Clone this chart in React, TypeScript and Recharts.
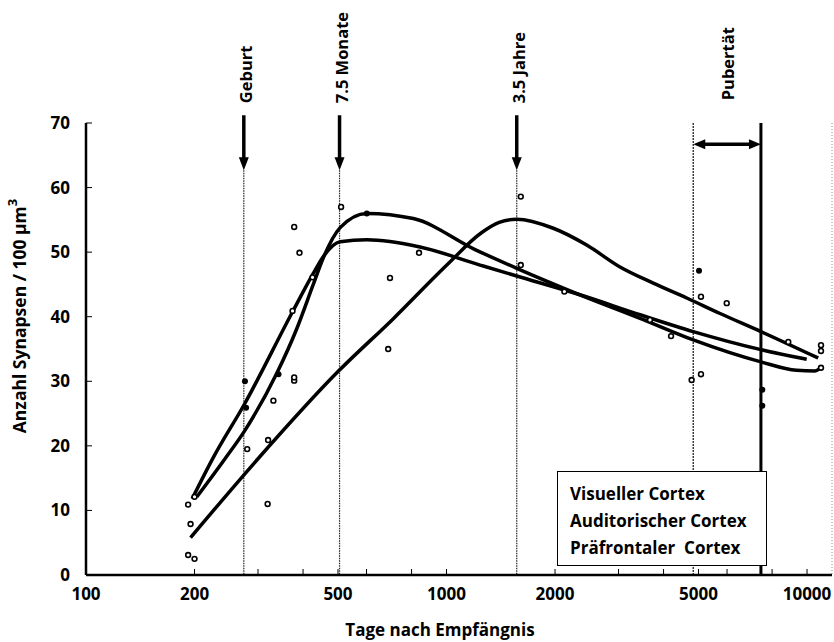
import React from 'react'
import { ComposedChart, Line, Scatter, XAxis, YAxis, ReferenceLine, Label } from 'recharts'

const FONT = '"Open Sans", "Noto Sans", sans-serif'

// axis ticks (log x axis, days after conception)
const X_TICKS = [100, 200, 300, 400, 500, 600, 800, 1000, 2000, 3000, 4000, 5000, 6000, 8000, 10000]
const X_LABELED = [100, 200, 500, 1000, 2000, 5000, 10000]
const Y_TICKS = [0, 10, 20, 30, 40, 50, 60, 70]

// fitted curves: [day, synapses]
const visualCurve: [number, number][] = [
  [203, 12.1], [243, 18.0], [276, 22.4], [338, 31.2], [384, 38.1], [427, 45.0], [455, 49.1],
  [507, 53.8], [601, 56.0], [809, 55.2], [1200, 50.4], [1566, 47.5], [2344, 43.4], [3443, 39.75],
  [4835, 36.4], [7450, 33.0], [9350, 31.7], [10520, 31.6], [10860, 32.0],
]
const auditoryCurve: [number, number][] = [
  [197, 11.8], [225, 18.1], [276, 26.6], [376, 41.0], [427, 46.7], [455, 49.3], [507, 51.6],
  [601, 51.9], [844, 50.8], [1239, 48.0], [1566, 46.3], [2344, 43.4], [3443, 40.3], [4835, 37.7],
  [7450, 34.9], [9980, 33.4],
]
const prefrontalCurve: [number, number][] = [
  [195, 5.8], [300, 18.0], [500, 31.5], [712, 39.7], [1002, 48.0], [1250, 53.0], [1400, 54.6],
  [1566, 55.1], [1978, 53.7], [2448, 51.1], [3029, 47.7], [3745, 45.2], [4638, 42.9], [5738, 40.5],
  [7450, 37.7], [10740, 33.6],
]

// measured samples
const openPoints: [number, number][] = [
  [192, 10.9], [195, 7.9], [192, 3.1], [200, 2.5], [200, 12.1], [280, 19.5], [319, 11.0], [320, 20.9],
  [331, 27.0], [378, 30.1], [378, 30.6], [378, 53.9], [391, 49.9], [374, 40.9], [425, 46.1],
  [510, 57.0], [697, 46.0], [689, 35.0], [839, 49.9], [1607, 58.6], [1607, 48.0], [2123, 43.9],
  [3668, 39.5], [4196, 37.0], [5080, 43.1], [5988, 42.1], [4786, 30.2], [5080, 31.1], [8873, 36.1],
  [10935, 35.6], [10935, 34.7], [10935, 32.1],
]
const filledPoints: [number, number][] = [
  [276, 30.0], [278, 25.9], [342, 31.1], [601, 56.0], [5017, 47.1], [7516, 28.7], [7516, 26.2],
]

const MILESTONES = [
  { label: 'Geburt', day: 274 },
  { label: '7.5 Monate', day: 505 },
  { label: '3.5 Jahre', day: 1566 },
]
const PUBERTY = { label: 'Pubertät', from: 4835, to: 7450 }
const LEGEND_ITEMS = ['Visueller Cortex', 'Auditorischer Cortex', 'Präfrontaler  Cortex']

const toXY = (pts: [number, number][]) => pts.map(([x, y]) => ({ x, y }))

const tickStyle = { fontSize: 17, fontWeight: 700, fill: '#000', fontFamily: FONT }

const downArrow = (label: string) => (p: any) => {
  const { x1, y1, y2 } = p
  const ty = y1 - 12
  return (
    <g>
      <line x1={x1} y1={y1} x2={x1} y2={y2 - 10} stroke="#000" strokeWidth={3.5} />
      <polygon points={`${x1 - 5},${y2 - 13} ${x1 + 5},${y2 - 13} ${x1},${y2}`} fill="#000" />
      <text
        x={x1 + 2}
        y={ty}
        transform={`rotate(-90 ${x1 + 2} ${ty})`}
        dominantBaseline="central"
        style={{ fontSize: 16.5, fontWeight: 700, fontFamily: FONT }}
      >
        {label}
      </text>
    </g>
  )
}

const doubleArrow = (p: any) => {
  const { x1, x2, y1 } = p
  const cx = (x1 + x2) / 2
  const ty = y1 - 44
  return (
    <g>
      <line x1={x1 + 10} y1={y1} x2={x2 - 10} y2={y1} stroke="#000" strokeWidth={3.5} />
      <polygon points={`${x1},${y1} ${x1 + 12},${y1 - 5} ${x1 + 12},${y1 + 5}`} fill="#000" />
      <polygon points={`${x2},${y1} ${x2 - 12},${y1 - 5} ${x2 - 12},${y1 + 5}`} fill="#000" />
      <text
        x={cx}
        y={ty}
        transform={`rotate(-90 ${cx} ${ty})`}
        dominantBaseline="central"
        style={{ fontSize: 16.5, fontWeight: 700, fontFamily: FONT }}
      >
        {PUBERTY.label}
      </text>
    </g>
  )
}

const openDot = (p: any) => (
  <circle cx={p.cx} cy={p.cy} r={2.4} fill="#fff" stroke="#000" strokeWidth={1.6} />
)
const filledDot = (p: any) => <circle cx={p.cx} cy={p.cy} r={3} fill="#000" />

const yLabel = (p: any) => {
  const vb = p.viewBox
  const x = vb.x + 19
  const y = vb.y + 193
  return (
    <text
      x={x}
      y={y}
      transform={`rotate(-90 ${x} ${y})`}
      textAnchor="middle"
      dominantBaseline="central"
      style={{ fontSize: 17.5, fontWeight: 700, fontFamily: FONT }}
    >
      Anzahl Synapsen / 100 µm
      <tspan dy={-7} fontSize={13}>3</tspan>
    </text>
  )
}

const xLabel = (p: any) => {
  const vb = p.viewBox
  return (
    <text
      x={vb.x + 354}
      y={vb.y + 61}
      textAnchor="middle"
      style={{ fontSize: 17, fontWeight: 700, fontFamily: FONT }}
    >
      Tage nach Empfängnis
    </text>
  )
}

export default function App() {
  return (
    <div style={{ position: 'absolute', left: 0, top: 0, width: 834, height: 642, background: '#fff' }}>
      <ComposedChart width={834} height={642} margin={{ top: 123, right: 0, bottom: 0, left: 0 }}>
        <XAxis
          dataKey="x"
          type="number"
          scale="log"
          domain={[100, 11730]}
          allowDataOverflow
          ticks={X_TICKS}
          interval={0}
          tickFormatter={(v: number) => (X_LABELED.includes(v) ? String(v) : '')}
          tick={tickStyle}
          tickSize={-6}
          tickMargin={19}
          height={67}
          stroke="#000"
          axisLine={{ strokeWidth: 2.5 }}
          label={<Label content={xLabel} />}
        />
        <XAxis
          xAxisId="top"
          orientation="top"
          dataKey="x"
          type="number"
          scale="log"
          domain={[100, 11730]}
          allowDataOverflow
          ticks={X_TICKS}
          interval={0}
          tickFormatter={() => ''}
          tickSize={-6}
          height={0}
          stroke="#000"
          axisLine={{ strokeWidth: 2 }}
        />
        <YAxis
          dataKey="y"
          type="number"
          domain={[0, 70]}
          ticks={Y_TICKS}
          interval={0}
          tick={tickStyle}
          tickSize={-6}
          tickMargin={22}
          width={86}
          stroke="#000"
          axisLine={{ strokeWidth: 2.5 }}
          label={<Label content={yLabel} />}
        />
        <YAxis
          yAxisId="right"
          orientation="right"
          type="number"
          domain={[0, 70]}
          ticks={Y_TICKS}
          interval={0}
          tickFormatter={() => ''}
          tickSize={-6}
          width={2}
          stroke="#000"
          axisLine={{ stroke: '#888', strokeDasharray: '1 2' }}
        />

        {MILESTONES.map((m) => (
          <ReferenceLine
            key={m.label + '-dot'}
            segment={[{ x: m.day, y: 62.7 }, { x: m.day, y: 0 }]}
            stroke="#222"
            strokeWidth={1.2}
            strokeDasharray="1.5 1"
            ifOverflow="visible"
          />
        ))}
        {MILESTONES.map((m) => (
          <ReferenceLine
            key={m.label}
            segment={[{ x: m.day, y: 71.2 }, { x: m.day, y: 62.7 }]}
            ifOverflow="visible"
            shape={downArrow(m.label)}
          />
        ))}
        <ReferenceLine
          segment={[{ x: PUBERTY.from, y: 70 }, { x: PUBERTY.from, y: 0 }]}
          stroke="#222"
          strokeWidth={1.3}
          strokeDasharray="2 1"
          ifOverflow="visible"
        />
        <ReferenceLine
          segment={[{ x: PUBERTY.to, y: 70 }, { x: PUBERTY.to, y: 0 }]}
          stroke="#000"
          strokeWidth={3}
          ifOverflow="visible"
        />
        <ReferenceLine
          segment={[{ x: PUBERTY.from, y: 66.7 }, { x: PUBERTY.to, y: 66.7 }]}
          ifOverflow="visible"
          shape={doubleArrow}
        />

        <Line data={toXY(visualCurve)} dataKey="y" type="monotone" stroke="#000" strokeWidth={3.5}
          dot={false} activeDot={false} isAnimationActive={false} />
        <Line data={toXY(auditoryCurve)} dataKey="y" type="monotone" stroke="#000" strokeWidth={3.5}
          dot={false} activeDot={false} isAnimationActive={false} />
        <Line data={toXY(prefrontalCurve)} dataKey="y" type="monotone" stroke="#000" strokeWidth={3.5}
          dot={false} activeDot={false} isAnimationActive={false} />

        <Scatter data={toXY(openPoints)} shape={openDot} isAnimationActive={false} />
        <Scatter data={toXY(filledPoints)} shape={filledDot} isAnimationActive={false} />
      </ComposedChart>

      {/* legend box */}
      <div
        style={{
          position: 'absolute',
          left: 557,
          top: 471,
          width: 210,
          height: 95,
          border: '1.5px solid #000',
          background: '#fff',
          padding: '8px 0 0 12px',
          boxSizing: 'border-box',
          fontFamily: FONT,
          fontSize: 17,
          fontWeight: 700,
          lineHeight: '27px',
          whiteSpace: 'pre',
        }}
      >
        {LEGEND_ITEMS.map((t) => (
          <div key={t}>{t}</div>
        ))}
      </div>
    </div>
  )
}
